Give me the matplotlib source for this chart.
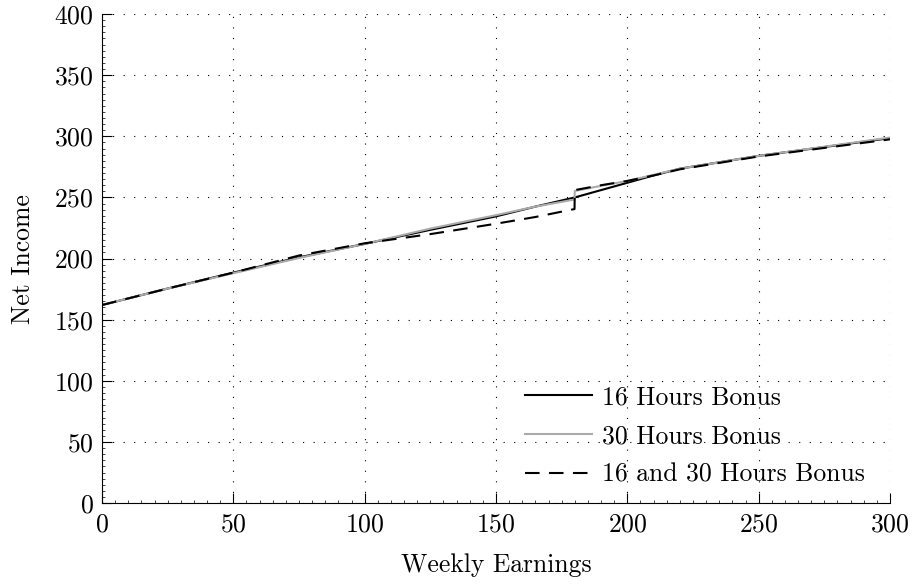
import matplotlib
matplotlib.use("Agg")
import matplotlib.pyplot as plt
from matplotlib.ticker import MultipleLocator

plt.rcParams["font.family"] = "serif"
plt.rcParams["font.serif"] = ["cmr10", "DejaVu Serif"]
plt.rcParams["axes.formatter.use_mathtext"] = True
plt.rcParams["mathtext.fontset"] = "cm"

# values
x16 = [0, 25, 50, 75, 100, 125, 150, 165, 180, 190, 200, 210, 220, 250, 300]
y16 = [162, 175.5, 188.5, 201, 212, 223.5, 234.5, 242.5, 250, 256, 262, 268, 273.5, 284, 298.5]

x30 = [0, 25, 50, 75, 100, 125, 150, 165, 179.9, 180, 190, 200, 210, 220, 250, 300]
y30 = [162, 175.5, 188, 200.5, 212, 224.5, 235.5, 242.5, 248.3, 255.3, 259.5, 263.5, 268.5, 273.5, 284, 299]

xboth = [0, 25, 50, 75, 90, 100, 125, 150, 165, 179.9, 180, 190, 200, 210, 220, 250, 300]
yboth = [162, 175.5, 188.5, 202.5, 208.5, 212.5, 220, 228.5, 234, 240.5, 256, 260, 263.5, 268, 273, 283.5, 297.5]

fs = 18.5

fig = plt.figure(figsize=(9.13, 5.85), dpi=100)
ax = fig.add_axes([0.1117, 0.140, 0.8631, 0.836])

ax.plot(x16, y16, color="black", lw=1.5, label="16 Hours Bonus")
ax.plot(x30, y30, color="#aaaaaa", lw=1.5, label="30 Hours Bonus")
ax.plot(xboth, yboth, color="black", lw=1.5, dashes=(7, 4.5), label="16 and 30 Hours Bonus")

ax.set_xlim(0, 300)
ax.set_ylim(0, 400)
ax.xaxis.set_major_locator(MultipleLocator(50))
ax.yaxis.set_major_locator(MultipleLocator(50))
ax.xaxis.set_minor_locator(MultipleLocator(5))
ax.yaxis.set_minor_locator(MultipleLocator(5))
ax.tick_params(which="both", direction="in", labelsize=fs, top=False, right=False)
ax.tick_params(which="major", length=7, width=0.8)
ax.tick_params(which="minor", length=2.5, width=0.5)
ax.tick_params(axis="x", pad=7)
ax.tick_params(axis="y", pad=6)

for s in ["top", "right"]:
    ax.spines[s].set_visible(False)

ax.grid(True, which="major", color="black", lw=0.8, linestyle=(0, (1, 8.5)))

ax.set_xlabel("Weekly Earnings", fontsize=fs, labelpad=12)
ax.set_ylabel("Net Income", fontsize=fs, labelpad=14)

ax.legend(loc="lower left", bbox_to_anchor=(0.537, 0.033), frameon=False,
          fontsize=fs, handlelength=2.6, labelspacing=0.59, borderpad=0,
          borderaxespad=0, handletextpad=0.38)

fig.savefig("out.png", dpi=100)
